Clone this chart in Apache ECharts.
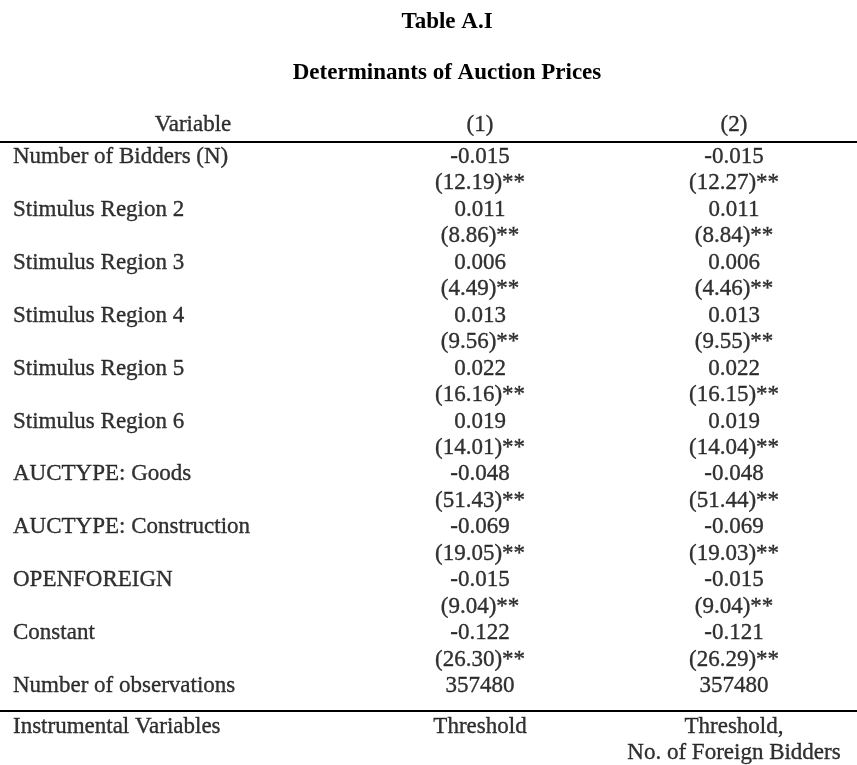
<!DOCTYPE html>
<html>
<head>
<meta charset="utf-8">
<script src="https://cdn.jsdelivr.net/npm/echarts@6/dist/echarts.min.js"></script>
<style>
html,body{margin:0;padding:0;background:#fff;}
#chart{width:857px;height:765px;}
</style>
</head>
<body>
<div id="chart"></div>
<script>
// ---- data ----
const titleText = 'Table A.I';
const subtitleText = 'Determinants of Auction Prices';
const headers = ['Variable', '(1)', '(2)'];
const variables = ['Number of Bidders (N)', 'Stimulus Region 2', 'Stimulus Region 3', 'Stimulus Region 4',
  'Stimulus Region 5', 'Stimulus Region 6', 'AUCTYPE: Goods', 'AUCTYPE: Construction', 'OPENFOREIGN', 'Constant'];
const coef1 = [-0.015, 0.011, 0.006, 0.013, 0.022, 0.019, -0.048, -0.069, -0.015, -0.122];
const tstat1 = [12.19, 8.86, 4.49, 9.56, 16.16, 14.01, 51.43, 19.05, 9.04, 26.30];
const coef2 = [-0.015, 0.011, 0.006, 0.013, 0.022, 0.019, -0.048, -0.069, -0.015, -0.121];
const tstat2 = [12.27, 8.84, 4.46, 9.55, 16.15, 14.04, 51.44, 19.03, 9.04, 26.29];
const obsLabel = 'Number of observations';
const observations = [357480, 357480];
const instrLabel = 'Instrumental Variables';
const instruments = [['Threshold'], ['Threshold,', 'No. of Foreign Bidders']];

// ---- layout ----
const W = 857, H = 765;
const ROW0_Y = 157, ROW_H = 26.45;
const COL_X = [13, 480, 734];
const HEADER_X = 193;
const HEADER_ROW = -1.2;
const RULE_ROWS = [-0.58, 20.94];
const INSTR_ROW = 21.55;
const FONT = "'Liberation Serif','Times New Roman',serif";
const FS = 23;

// ---- build cells ----
const leftCells = [], centerCells = [];
centerCells.push({ value: [HEADER_X, HEADER_ROW], text: headers[0] });
centerCells.push({ value: [COL_X[1], HEADER_ROW], text: headers[1] });
centerCells.push({ value: [COL_X[2], HEADER_ROW], text: headers[2] });
variables.forEach((v, i) => {
  const r = i * 2;
  leftCells.push({ value: [COL_X[0], r], text: v });
  centerCells.push({ value: [COL_X[1], r], text: coef1[i].toFixed(3) });
  centerCells.push({ value: [COL_X[1], r + 1], text: '(' + tstat1[i].toFixed(2) + ')**' });
  centerCells.push({ value: [COL_X[2], r], text: coef2[i].toFixed(3) });
  centerCells.push({ value: [COL_X[2], r + 1], text: '(' + tstat2[i].toFixed(2) + ')**' });
});
const obsRow = variables.length * 2;
leftCells.push({ value: [COL_X[0], obsRow], text: obsLabel });
observations.forEach((o, c) => centerCells.push({ value: [COL_X[c + 1], obsRow], text: String(o) }));
leftCells.push({ value: [COL_X[0], INSTR_ROW], text: instrLabel });
instruments.forEach((lines, c) => lines.forEach((t, k) =>
  centerCells.push({ value: [COL_X[c + 1], INSTR_ROW + k * 1.0], text: t })));

const labelBase = { show: true, position: 'inside', color: '#000', fontFamily: FONT, fontSize: FS,
  textBorderColor: '#000', textBorderWidth: 0.35,
  verticalAlign: 'middle', formatter: p => p.data.text };

const chart = echarts.init(document.getElementById('chart'));
chart.setOption({
  backgroundColor: '#fff',
  animation: false,
  grid: { left: 0, right: 0, top: 0, bottom: 0 },
  xAxis: { type: 'value', min: 0, max: W, show: false },
  yAxis: { type: 'value', inverse: true, min: -ROW0_Y / ROW_H, max: (H - ROW0_Y) / ROW_H, show: false },
  graphic: [
    { type: 'text', x: 447, y: 22, style: { text: titleText, font: 'bold 23px ' + FONT, fill: '#000', textAlign: 'center', textVerticalAlign: 'middle' } },
    { type: 'text', x: 447, y: 73, style: { text: subtitleText, font: 'bold 23px ' + FONT, fill: '#000', textAlign: 'center', textVerticalAlign: 'middle' } }
  ],
  series: [
    {
      type: 'scatter', symbolSize: 2, itemStyle: { color: 'rgba(0,0,0,0)' }, silent: true,
      data: leftCells,
      label: Object.assign({}, labelBase, { align: 'left' }),
      labelLayout: { hideOverlap: false },
      markLine: {
        silent: true, symbol: 'none', label: { show: false },
        lineStyle: { color: '#000', width: 1.8, type: 'solid', opacity: 1 },
        data: RULE_ROWS.map(r => ({ yAxis: r }))
      }
    },
    {
      type: 'scatter', symbolSize: 2, itemStyle: { color: 'rgba(0,0,0,0)' }, silent: true,
      data: centerCells,
      label: Object.assign({}, labelBase, { align: 'center' }),
      labelLayout: { hideOverlap: false }
    }
  ]
});
</script>
</body>
</html>
